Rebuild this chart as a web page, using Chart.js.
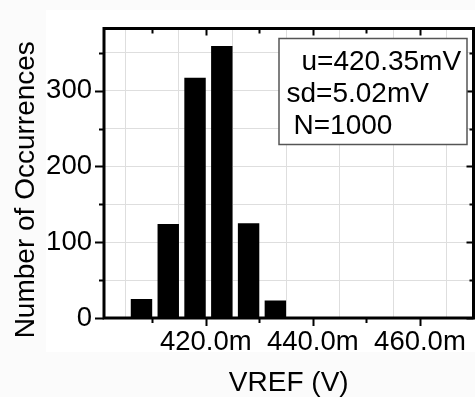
<!DOCTYPE html>
<html>
<head>
<meta charset="utf-8">
<script src="https://cdn.jsdelivr.net/npm/chart.js@4.4.1/dist/chart.umd.min.js"></script>
<style>
  html, body { margin: 0; padding: 0; background: #fbfbfb; }
  #wrap { width: 475px; height: 397px; position: relative; }
</style>
</head>
<body>
<div id="wrap"><canvas id="c" width="475" height="397"></canvas></div>
<script>
// VREF histogram, 1000 samples in 5 mV bins (values in mV)
const binCenters = [408, 413, 418, 423, 428, 433];
const counts = [25, 124, 317, 359, 125, 23];

// axis ticks: every value gets a grid line, labelled ones get text
const xTickValues = [410, 420, 430, 440, 450, 460];
const xLabelValues = [420, 440, 460];
const yTickValues = [0, 50, 100, 150, 200, 250, 300, 350];
const yLabelValues = [0, 100, 200, 300];

const statsLines = ['u=420.35mV', 'sd=5.02mV', 'N=1000'];
const xTitle = 'VREF (V)';
const yTitle = 'Number of Occurrences';

const FONT = '"Liberation Sans", Arial, Helvetica, sans-serif';

// white panel behind the plot and its tick labels
const panelPlugin = {
  id: 'panel',
  beforeDraw(chart) {
    const { ctx, width } = chart;
    ctx.save();
    ctx.fillStyle = '#fbfbfb';
    ctx.fillRect(0, 0, width, chart.height);
    ctx.fillStyle = '#ffffff';
    ctx.fillRect(46, 10, width - 46, 342);
    ctx.restore();
  }
};

// frame, tick marks, rotated y title and the statistics box
const framePlugin = {
  id: 'frame',
  afterDraw(chart) {
    const { ctx, chartArea: a, scales } = chart;
    const xs = scales.x, ys = scales.y;
    ctx.save();
    ctx.strokeStyle = '#000';
    ctx.lineWidth = 2;
    ctx.lineCap = 'butt';
    ctx.beginPath();
    xTickValues.forEach(v => {
      const px = Math.round(xs.getPixelForValue(v)) + 0.5;
      const major = xLabelValues.includes(v);
      ctx.moveTo(px, a.bottom); ctx.lineTo(px, a.bottom + (major ? 8 : 5));
      ctx.moveTo(px, a.top); ctx.lineTo(px, a.top + (major ? 7 : 5));
    });
    yTickValues.forEach(v => {
      const py = Math.round(ys.getPixelForValue(v)) + 0.5;
      const major = yLabelValues.includes(v);
      ctx.moveTo(a.left, py); ctx.lineTo(a.left - (major ? 9 : 5), py);
      ctx.moveTo(a.right, py); ctx.lineTo(a.right - (major ? 7 : 4), py);
    });
    ctx.stroke();

    ctx.lineWidth = 3;
    ctx.strokeRect(a.left, a.top, a.right - a.left, a.bottom - a.top);

    // y axis title
    ctx.fillStyle = '#000';
    ctx.font = '28px ' + FONT;
    ctx.textAlign = 'center';
    ctx.textBaseline = 'alphabetic';
    ctx.translate(34, (a.top + a.bottom) / 2 + 16.5);
    ctx.rotate(-Math.PI / 2);
    ctx.fillText(yTitle, 0, 0);
    ctx.restore();

    // statistics box
    ctx.save();
    const bw = 188, bh = 106;
    const bx = a.right - 6.5 - bw, by = a.top + 10;
    ctx.fillStyle = '#fff';
    ctx.fillRect(bx, by, bw, bh);
    ctx.strokeStyle = '#555';
    ctx.lineWidth = 1.5;
    ctx.strokeRect(bx, by, bw, bh);
    ctx.fillStyle = '#000';
    ctx.font = '28px ' + FONT;
    ctx.textAlign = 'left';
    ctx.textBaseline = 'alphabetic';
    const offsets = [22.5, 7.5, 14.5];
    statsLines.forEach((t, i) => {
      ctx.fillText(t, bx + offsets[i], by + 31 + i * 32);
    });
    ctx.restore();
  }
};

new Chart(document.getElementById('c'), {
  type: 'bar',
  data: {
    datasets: [{
      data: binCenters.map((x, i) => ({ x: x, y: counts[i] })),
      backgroundColor: '#000',
      borderWidth: 0,
      barPercentage: 0.8,
      categoryPercentage: 1.0
    }]
  },
  options: {
    responsive: false,
    animation: false,
    layout: { padding: { top: 14, right: 1.5, left: 0, bottom: 0 } },
    plugins: { legend: { display: false }, tooltip: { enabled: false } },
    scales: {
      x: {
        type: 'linear',
        min: 401,
        max: 470,
        offset: false,
        afterFit(s) { s.height = 79; },
        afterBuildTicks(s) { s.ticks = xTickValues.map(v => ({ value: v })); },
        grid: { color: '#dedede', lineWidth: 1, drawTicks: false },
        border: { display: false },
        ticks: {
          padding: 8,
          color: '#000',
          font: { family: FONT, size: 27.5 },
          maxRotation: 0,
          autoSkip: false,
          callback: v => xLabelValues.includes(v) ? v.toFixed(1) + 'm' : ''
        },
        title: {
          display: true,
          text: xTitle,
          color: '#000',
          font: { family: FONT, size: 28 },
          padding: { top: 0, bottom: -3 }
        }
      },
      y: {
        min: 0,
        max: 382,
        afterFit(s) { s.width = 104; },
        afterBuildTicks(s) { s.ticks = yTickValues.map(v => ({ value: v })); },
        grid: { color: '#dedede', lineWidth: 1, drawTicks: false },
        border: { display: false },
        ticks: {
          padding: 12,
          color: '#000',
          font: { family: FONT, size: 27.5 },
          autoSkip: false,
          callback: v => yLabelValues.includes(v) ? String(v) : ''
        }
      }
    }
  },
  plugins: [panelPlugin, framePlugin]
});
</script>
</body>
</html>
